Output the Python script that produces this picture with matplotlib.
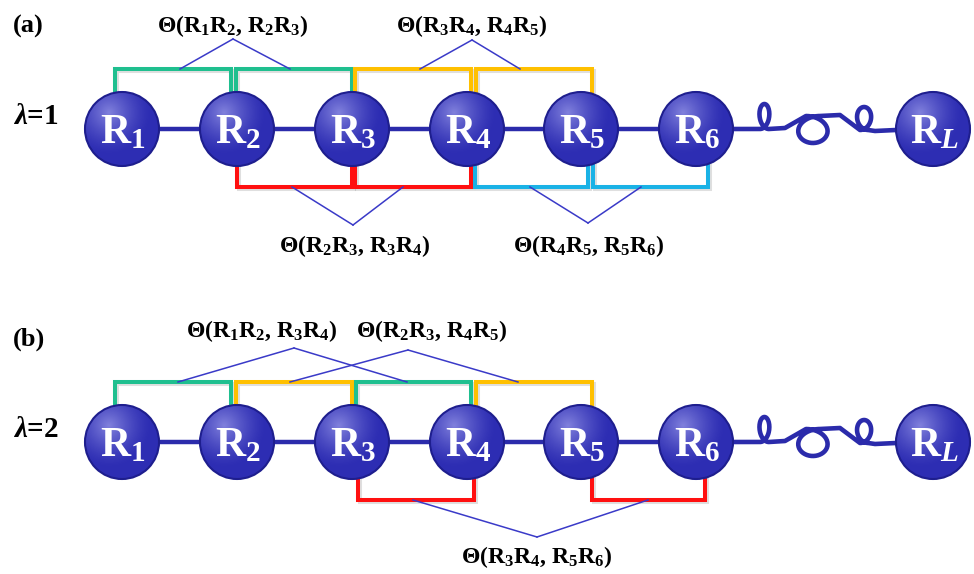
import numpy as np
import matplotlib.pyplot as plt
from matplotlib.patches import Circle
import matplotlib.patheffects as pe

plt.rcParams['font.family'] = ['Liberation Serif', 'DejaVu Serif']
plt.rcParams['mathtext.fontset'] = 'custom'
plt.rcParams['mathtext.rm'] = 'Liberation Serif:bold'
plt.rcParams['mathtext.bf'] = 'Liberation Serif:bold'
plt.rcParams['mathtext.it'] = 'Liberation Serif:bold:italic'

GREEN = '#1fbf8f'
ORANGE = '#ffc000'
RED = '#ff1010'
CYAN = '#1ab2e6'
THIN = '#3a3ac8'
CHAIN = '#2b2bab'

# residues along the chain
node_labels = ['R$_1$', 'R$_2$', 'R$_3$', 'R$_4$', 'R$_5$', 'R$_6$', 'R$_L$']
node_x = [122, 237, 352, 467, 581, 696, 933]
node_r = 37
row_y = [129, 442]
panel_tags = ['(a)', '(b)']
lambda_tags = ['$\\lambda$=1', '$\\lambda$=2']

# brackets: (left x, right x, colour), drawn above (top) or below (bottom) the chain
top_brackets = [
    [(115, 231, GREEN), (236, 352, GREEN), (355, 471, ORANGE), (476, 592, ORANGE)],
    [(115, 231, GREEN), (236, 352, ORANGE), (356, 471, GREEN), (476, 592, ORANGE)],
]
bottom_brackets = [
    [(237, 352, RED), (355, 471, RED), (475, 588, CYAN), (593, 708, CYAN)],
    [(358, 474, RED), (592, 705, RED)],
]
top_gap = 60
bottom_gap = 58

# angle labels: text, apex (x, dy from row), leg x positions, label x, label baseline dy
top_labels = [
    [('Θ(R$_1$R$_2$, R$_2$R$_3$)', (233, -90), (180, 290), 233, -97),
     ('Θ(R$_3$R$_4$, R$_4$R$_5$)', (472, -89), (420, 520), 472, -97)],
    [('Θ(R$_1$R$_2$, R$_3$R$_4$)', (294, -94), (178, 407), 262, -105),
     ('Θ(R$_2$R$_3$, R$_4$R$_5$)', (408, -92), (290, 518), 432, -105)],
]
bottom_labels = [
    [('Θ(R$_2$R$_3$, R$_3$R$_4$)', (353, 96), (292, 403), 355, 123),
     ('Θ(R$_4$R$_5$, R$_5$R$_6$)', (588, 94), (530, 641), 589, 123)],
    [('Θ(R$_3$R$_4$, R$_5$R$_6$)', (537, 95), (413, 648), 537, 121)],
]

fig = plt.figure(figsize=(9.74, 5.74), dpi=100)
ax = fig.add_axes([0, 0, 1, 1])
ax.set_xlim(0, 974)
ax.set_ylim(574, 0)
ax.axis('off')

shadow = [pe.SimpleLineShadow(offset=(1.2, -1.2), alpha=0.25, shadow_color='gray'), pe.Normal()]


def draw_bracket(xl, xr, y0, ybar, color):
    ax.plot([xl, xl, xr, xr], [y0, ybar, ybar, y0], color=color, lw=2.9,
            solid_joinstyle='miter', zorder=2, path_effects=shadow)


def draw_node(x, y, label):
    ax.add_patch(Circle((x, y), node_r, facecolor='#2d2db3', edgecolor='#1e1e8e',
                        lw=1.5, zorder=5))
    n = 120
    gx, gy = np.meshgrid(np.linspace(-1, 1, n), np.linspace(-1, 1, n))
    d = np.hypot(gx + 0.35, gy + 0.45)
    a = np.clip(1 - d / 1.15, 0, 1) ** 1.4 * 0.55
    img = np.zeros((n, n, 4))
    img[..., 0] = 0.78
    img[..., 1] = 0.78
    img[..., 2] = 1.0
    img[..., 3] = a
    clip = Circle((x, y), node_r - 1, transform=ax.transData)
    im = ax.imshow(img, extent=(x - node_r, x + node_r, y + node_r, y - node_r),
                   origin='upper', zorder=6, interpolation='bilinear')
    im.set_clip_path(clip)
    ax.text(x + 1, y + 14, label, color='white', fontsize=30, fontweight='bold',
            ha='center', va='baseline', zorder=7)


def squiggle(y0):
    t = np.linspace(0, 2 * np.pi, 90)
    xs, ys = [733, 760], [y0, y0]
    # tall narrow loop
    xs += list(760 + 1.4 * t + 7 * np.sin(t))
    ys += list(y0 - 12.5 * (1 - np.cos(t)))
    # big round loop
    xs += [785]
    ys += [y0 - 1]
    xs += list(806 + 2.2 * t + 18 * np.sin(t))
    ys += list(y0 - 13 + 13.5 * (1 - np.cos(t)))
    # small e-shaped loop
    xs += [840]
    ys += [y0 - 14]
    xs += list(860 + 1.3 * t + 9 * np.sin(t))
    ys += list(y0 + 1 - 11.5 * (1 - np.cos(t)))
    xs += [875, 896]
    ys += [y0 + 2, y0 + 1]
    ax.plot(xs, ys, color=CHAIN, lw=3.3, zorder=3, solid_capstyle='round',
            solid_joinstyle='round')


for p, y0 in enumerate(row_y):
    ax.plot(node_x[:6], [y0] * 6, color=CHAIN, lw=3.2, zorder=3)
    squiggle(y0)
    for xl, xr, c in top_brackets[p]:
        draw_bracket(xl, xr, y0, y0 - top_gap, c)
    for xl, xr, c in bottom_brackets[p]:
        draw_bracket(xl, xr, y0, y0 + bottom_gap, c)
    for txt, (axp, ady), legs, tx, tdy in top_labels[p]:
        for lx in legs:
            ax.plot([lx, axp], [y0 - top_gap, y0 + ady], color=THIN, lw=1.1, zorder=4)
        ax.text(tx, y0 + tdy, txt, fontsize=17, fontweight='bold', ha='center',
                va='baseline', zorder=8)
    for txt, (axp, ady), legs, tx, tdy in bottom_labels[p]:
        for lx in legs:
            ax.plot([lx, axp], [y0 + bottom_gap, y0 + ady], color=THIN, lw=1.1, zorder=4)
        ax.text(tx, y0 + tdy, txt, fontsize=17, fontweight='bold', ha='center',
                va='baseline', zorder=8)
    for x, lab in zip(node_x, node_labels):
        draw_node(x, y0, lab)
    ax.text(13, y0 - 96, panel_tags[p], fontsize=19, fontweight='bold',
            ha='left', va='baseline')
    ax.text(13, y0 - 5, lambda_tags[p], fontsize=21, fontweight='bold',
            ha='left', va='baseline')

fig.savefig('out.png', dpi=100)
